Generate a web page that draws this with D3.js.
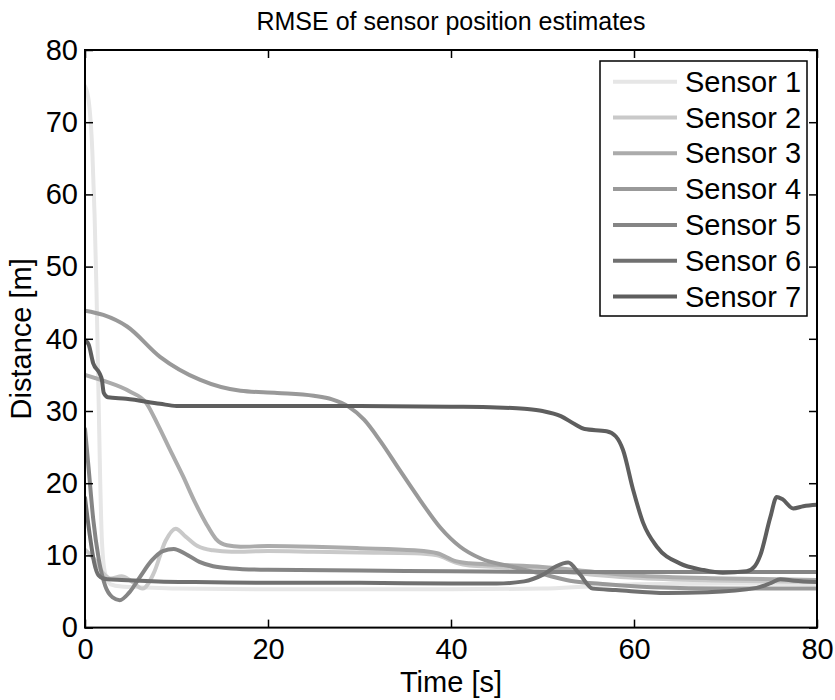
<!DOCTYPE html>
<html><head><meta charset="utf-8">
<script src="https://cdn.jsdelivr.net/npm/d3@7"></script>
<style>
body{margin:0;background:#fff;}
svg text{font-family:"Liberation Sans",Arial,Helvetica,sans-serif;fill:#000;}
</style>
</head><body>
<svg id="c" width="835" height="700"></svg>
<script>
const titleText = "RMSE of sensor position estimates";
const xLabel = "Time [s]";
const yLabel = "Distance [m]";
const xTicks = [0, 20, 40, 60, 80];
const yTicks = [0, 10, 20, 30, 40, 50, 60, 70, 80];
const seriesNames = ["Sensor 1","Sensor 2","Sensor 3","Sensor 4","Sensor 5","Sensor 6","Sensor 7"];
const seriesColors = ["#e6e6e6","#c9c9c9","#ababab","#999999","#858585","#707070","#5e5e5e"];

const t1 = [0, 0.4, 0.8, 1.05, 1.25, 1.45, 1.65, 1.85, 2.2, 2.8, 4, 6, 10, 20, 30, 40, 50, 55, 60, 70, 80];
const v1 = [75, 73, 66, 57, 47, 34, 21, 12, 7.5, 6.0, 5.7, 5.6, 5.4, 5.3, 5.3, 5.3, 5.4, 5.7, 6.0, 6.1, 6.0];

const t2 = [0, 1, 2, 2.8, 4, 5, 6.3, 7.5, 8.8, 9.9, 11, 12.3, 14, 16, 20, 25, 30, 36, 38.5, 40.5, 42, 45, 50, 55, 60, 70, 80];
const v2 = [10.8, 9.5, 7.5, 6.8, 7.1, 6.5, 5.4, 7.5, 12, 13.7, 12.6, 11.3, 10.7, 10.5, 10.6, 10.5, 10.4, 10.3, 10.0, 9.0, 8.6, 8.4, 8.0, 7.4, 6.9, 6.5, 6.3];

const t3 = [0, 2, 4.9, 6.7, 8, 9.3, 10.7, 12, 13.2, 14.3, 15.5, 17, 20, 25, 30, 36, 38.5, 40.5, 42, 45, 50, 55, 60, 70, 80];
const v3 = [35, 34.2, 32.7, 31.1, 28, 24.6, 21, 17.4, 14.5, 12.3, 11.4, 11.2, 11.3, 11.2, 11.0, 10.7, 10.3, 9.2, 8.9, 8.7, 8.4, 7.8, 7.2, 6.8, 6.6];

const t4 = [0, 2, 4.6, 8.2, 12.6, 17, 21, 25, 27, 28.8, 30.5, 32.3, 34.4, 36.6, 38.8, 41, 43.2, 46.8, 50, 53, 57, 62, 70, 80];
const v4 = [43.9, 43.3, 41.7, 37.5, 34.3, 32.8, 32.5, 32.1, 31.6, 30.6, 28.8, 25.8, 21.8, 17.7, 13.9, 11.2, 9.6, 8.4, 7.4, 6.5, 6.0, 5.6, 5.4, 5.4];

const t5 = [0, 0.4, 0.9, 1.5, 2.2, 3, 3.8, 4.8, 6, 7.3, 8.5, 9.7, 11, 12.5, 14, 16, 20, 30, 40, 50, 60, 70, 80];
const v5 = [27.5, 22, 15, 9.5, 5.8, 4.2, 3.8, 4.8, 7, 9.3, 10.6, 10.9, 10.2, 9.1, 8.5, 8.2, 8.0, 7.9, 7.8, 7.7, 7.7, 7.7, 7.7];

const t6 = [0, 0.5, 1, 1.5, 2, 2.5, 4, 8, 12, 20, 30, 40, 45, 48, 50, 51.5, 52.8, 54, 55.5, 58, 63.6, 68, 73.4, 75, 76, 77.5, 80];
const v6 = [18, 13, 9, 7.2, 6.8, 6.7, 6.6, 6.4, 6.3, 6.2, 6.2, 6.1, 6.1, 6.4, 7.3, 8.5, 9.0, 7.5, 5.4, 5.2, 4.8, 4.9, 5.5, 6.2, 6.7, 6.5, 6.3];

const t7 = [0, 0.4, 0.9, 1.6, 1.85, 2.05, 2.5, 4.5, 8.2, 10, 15, 20, 30, 40, 45, 48, 50, 52, 53.5, 54.6, 57, 58, 58.8, 59.9, 61, 62.5, 65, 67.5, 69.7, 72.3, 73.2, 73.8, 74.9, 75.6, 76.2, 77.4, 78.5, 80];
const v7 = [39.8, 39.2, 36.6, 35.2, 34.3, 32.5, 31.9, 31.7, 31.0, 30.7, 30.7, 30.7, 30.7, 30.6, 30.5, 30.3, 30.0, 29.3, 28.2, 27.5, 27.2, 26.5, 24.6, 19.1, 14.5, 11.2, 8.9, 8.0, 7.6, 7.8, 8.5, 10.0, 15.3, 18.1, 17.8, 16.5, 16.8, 17.0];

const seriesT = [t1, t2, t3, t4, t5, t6, t7];
const seriesV = [v1, v2, v3, v4, v5, v6, v7];

const svg = d3.select("#c");
const L = 85, R = 817, T = 50, B = 627.6;
const x = d3.scaleLinear().domain([0, 80]).range([L, R]);
const y = d3.scaleLinear().domain([0, 80]).range([B, T]);

svg.append("defs").append("clipPath").attr("id","clip")
  .append("rect").attr("x", L).attr("y", T).attr("width", R - L).attr("height", B - T);

const line = d3.line().x(d => x(d[0])).y(d => y(d[1])).curve(d3.curveMonotoneX);
const gLines = svg.append("g").attr("clip-path","url(#clip)");
seriesNames.forEach((n, i) => {
  const pts = seriesT[i].map((t, j) => [t, seriesV[i][j]]);
  gLines.append("path").datum(pts).attr("d", line)
    .attr("fill","none").attr("stroke", seriesColors[i])
    .attr("stroke-width", 4).attr("stroke-linejoin","round").attr("stroke-linecap","round");
});

const fs = 29;
function styleAxis(g, showLabels){
  g.select(".domain").remove();
  g.selectAll(".tick line").attr("stroke","#000").attr("stroke-width",1.5);
  g.selectAll(".tick text").attr("font-size", fs).attr("fill","#000");
  if(!showLabels) g.selectAll(".tick text").remove();
}
svg.append("g").attr("transform",`translate(0,${B})`)
  .call(d3.axisBottom(x).tickValues(xTicks).tickSize(-8).tickPadding(11).tickFormat(d3.format("d")))
  .call(g => styleAxis(g, true));
svg.append("g").attr("transform",`translate(0,${T})`)
  .call(d3.axisTop(x).tickValues(xTicks).tickSize(-8))
  .call(g => styleAxis(g, false));
svg.append("g").attr("transform",`translate(${L},0)`)
  .call(d3.axisLeft(y).tickValues(yTicks).tickSize(-8).tickPadding(7).tickFormat(d3.format("d")))
  .call(g => styleAxis(g, true));
svg.append("g").attr("transform",`translate(${R},0)`)
  .call(d3.axisRight(y).tickValues(yTicks).tickSize(-8))
  .call(g => styleAxis(g, false));

svg.append("rect").attr("x", L).attr("y", T).attr("width", R - L).attr("height", B - T)
  .attr("fill","none").attr("stroke","#000").attr("stroke-width",2);

svg.append("text").attr("x", (L + R) / 2).attr("y", 30).attr("text-anchor","middle")
  .attr("font-size", 25).text(titleText);
svg.append("text").attr("x", (L + R) / 2).attr("y", 692).attr("text-anchor","middle")
  .attr("font-size", fs).text(xLabel);
svg.append("text").attr("transform",`translate(31,${(T + B) / 2}) rotate(-90)`)
  .attr("text-anchor","middle").attr("font-size", fs).text(yLabel);

// legend
const lg = svg.append("g");
const lgX = 600, lgY = 61, lgW = 207, lgH = 255, rowH = 35.8, row0 = 81.7;
lg.append("rect").attr("x", lgX).attr("y", lgY).attr("width", lgW).attr("height", lgH)
  .attr("fill","#fff").attr("stroke","#000").attr("stroke-width",1.5);
seriesNames.forEach((n, i) => {
  const yy = row0 + i * rowH;
  lg.append("line").attr("x1", 613).attr("x2", 677).attr("y1", yy).attr("y2", yy)
    .attr("stroke", seriesColors[i]).attr("stroke-width", 4);
  lg.append("text").attr("x", 685).attr("y", yy).attr("dy","0.35em")
    .attr("font-size", fs).text(n);
});
</script>
</body></html>
